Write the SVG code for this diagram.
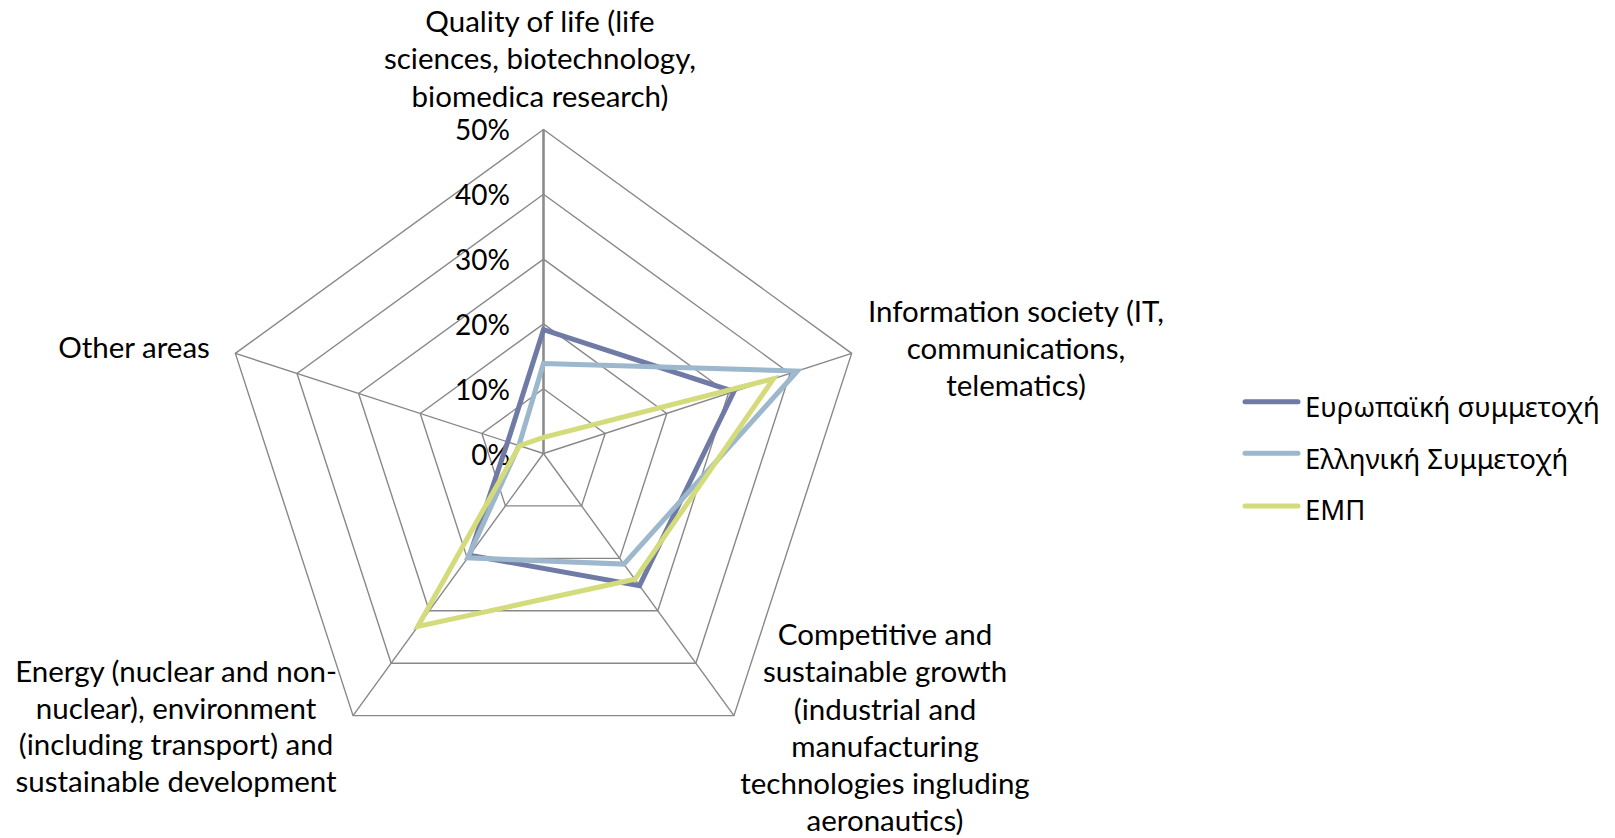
<svg xmlns="http://www.w3.org/2000/svg" width="1615" height="838" viewBox="0 0 1615 838">
<style>
.grid{fill:none;stroke:#888888;stroke-width:1.4;stroke-linejoin:miter}
.spoke{stroke:#888888;stroke-width:1.4}
.vaxis{stroke:#8c8c8c;stroke-width:2.6}
.lbl{font-family:Lato,"Liberation Sans",sans-serif;font-size:29.5px;fill:#000;text-anchor:middle}
.tick{font-family:Lato,"Liberation Sans",sans-serif;font-size:28px;fill:#000;text-anchor:end}
.leg{font-family:"Noto Sans","Open Sans",sans-serif;font-size:27.5px;fill:#000}
.ser{fill:none;stroke-width:5;stroke-linejoin:miter}
.s1{stroke:#6f7aa5}
.s2{stroke:#9db7cd}
.s3{stroke:#d3db7b}
.legline{stroke-width:5;stroke-linecap:round}
</style>
<rect width="1615" height="838" fill="#ffffff"/>
<g id="grid">
<polygon class="grid" points="543.5,388.7 605.13,433.48 581.59,505.92 505.41,505.92 481.87,433.48"/>
<polygon class="grid" points="543.5,323.9 666.76,413.45 619.68,558.35 467.32,558.35 420.24,413.45"/>
<polygon class="grid" points="543.5,259.1 728.4,393.43 657.77,610.77 429.23,610.77 358.6,393.43"/>
<polygon class="grid" points="543.5,194.3 790.03,373.41 695.86,663.2 391.14,663.2 297,373.41"/>
<polygon class="grid" points="543.5,129.5 851.66,353.38 733.95,715.62 353.05,715.62 235.34,353.38"/>
<line class="spoke" x1="543.5" y1="453.5" x2="851.66" y2="353.38"/>
<line class="spoke" x1="543.5" y1="453.5" x2="733.95" y2="715.62"/>
<line class="spoke" x1="543.5" y1="453.5" x2="353.05" y2="715.62"/>
<line class="spoke" x1="543.5" y1="453.5" x2="235.34" y2="353.38"/>
<line class="vaxis" x1="543.5" y1="453.5" x2="543.5" y2="129.5"/>
</g>
<g id="ticks">
<text class="tick" x="510" y="140">50%</text>
<text class="tick" x="510" y="205">40%</text>
<text class="tick" x="510" y="270">30%</text>
<text class="tick" x="510" y="334.5">20%</text>
<text class="tick" x="510" y="399.5">10%</text>
<text class="tick" x="510" y="464.5">0%</text>
</g>
<g id="connectors">
<polygon id="series-europe" class="ser s1" points="543.5,329.7 733.9,391.6 639.5,585.6 469.6,555.2 507.7,441.9"/>
<polygon id="series-greece" class="ser s2" points="543.5,363.4 797.4,371 623.9,564.1 467.7,557.8 518.9,445.5"/>
<polygon id="series-ntua" class="ser s3" points="543.5,437.3 773.4,378.8 634.9,579.3 417.8,626.5 519.4,445.7"/>
</g>
<g id="node-quality">
<text class="lbl" x="540" y="31.5">Quality of life (life</text>
<text class="lbl" x="540" y="69">sciences, biotechnology,</text>
<text class="lbl" x="540" y="106.5">biomedica research)</text>
</g>
<g id="node-information">
<text class="lbl" x="1016" y="322">Information society (IT,</text>
<text class="lbl" x="1016" y="359">communications,</text>
<text class="lbl" x="1016" y="396">telematics)</text>
</g>
<g id="node-competitive">
<text class="lbl" x="885" y="645">Competitive and</text>
<text class="lbl" x="885" y="682">sustainable growth</text>
<text class="lbl" x="885" y="719.5">(industrial and</text>
<text class="lbl" x="885" y="756.5">manufacturing</text>
<text class="lbl" x="885" y="793.5">technologies ingluding</text>
<text class="lbl" x="885" y="830.5">aeronautics)</text>
</g>
<g id="node-energy">
<text class="lbl" x="176" y="682">Energy (nuclear and non-</text>
<text class="lbl" x="176" y="718.5">nuclear), environment</text>
<text class="lbl" x="176" y="755">(including transport) and</text>
<text class="lbl" x="176" y="791.5">sustainable development</text>
</g>
<g id="node-other">
<text class="lbl" x="134" y="358">Other areas</text>
</g>
<g id="legend">
<line class="legline s1" x1="1245" y1="401.7" x2="1298" y2="401.7"/>
<text class="leg" x="1305" y="417">Ευρωπαϊκή συμμετοχή</text>
<line class="legline s2" x1="1245" y1="453.3" x2="1298" y2="453.3"/>
<text class="leg" x="1305" y="468.5">Ελληνική Συμμετοχή</text>
<line class="legline s3" x1="1245" y1="506" x2="1298" y2="506"/>
<text class="leg" x="1305" y="519.5">ΕΜΠ</text>
</g>
</svg>
